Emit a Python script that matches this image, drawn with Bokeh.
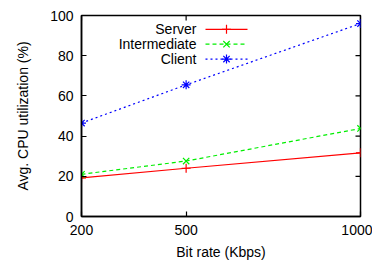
from bokeh.plotting import figure
from bokeh.models import Range1d, FixedTicker, Label
from bokeh.embed import file_html
from bokeh.resources import INLINE

bit_rates = [200, 500, 1000]
server = [19.2, 24.0, 31.7]
intermediate = [21.0, 27.6, 43.8]
client = [46.5, 65.5, 96.0]
series_names = ["Server", "Intermediate", "Client"]
x_ticks = [200, 500, 1000]
y_ticks = [0, 20, 40, 60, 80, 100]

FONT = "Liberation Sans"
FS = "14px"
FW, FH = 279, 203

p = figure(width=372, height=262, output_backend="svg", toolbar_location=None,
           x_range=Range1d(200, 1000), y_range=Range1d(0, 100),
           min_border_left=81, min_border_right=12, min_border_top=15, min_border_bottom=44)
p.grid.visible = False
p.outline_line_color = "black"
p.outline_line_width = 1.5
p.background_fill_color = "white"
p.border_fill_color = "white"

for ax in [p.xaxis[0], p.yaxis[0]]:
    ax.major_tick_in = 5
    ax.major_tick_out = 0
    ax.minor_tick_in = 0
    ax.minor_tick_out = 0
    ax.axis_line_width = 1.5
    ax.axis_line_color = "black"
    ax.major_tick_line_width = 1.2
    ax.major_tick_line_color = "black"
    ax.major_label_text_font = FONT
    ax.major_label_text_font_size = FS
    ax.major_label_text_color = "black"
    ax.axis_label_text_font = FONT
    ax.axis_label_text_font_size = FS
    ax.axis_label_text_font_style = "normal"
    ax.axis_label_text_color = "black"

p.xaxis[0].ticker = FixedTicker(ticks=x_ticks)
p.yaxis[0].ticker = FixedTicker(ticks=y_ticks)
p.xaxis[0].axis_label = "Bit rate (Kbps)"
p.yaxis[0].axis_label = "Avg. CPU utilization (%)"
p.xaxis[0].major_label_standoff = 8
p.yaxis[0].major_label_standoff = 8
p.xaxis[0].axis_label_standoff = 6
p.yaxis[0].axis_label_standoff = 16

x0, x1 = p.x_range.start, p.x_range.end
y0, y1 = p.y_range.start, p.y_range.end
dx = 5 / FW * (x1 - x0)
dy = 5 / FH * (y1 - y0)

# mirrored ticks (top and right), gnuplot style
p.segment(x0=x_ticks, y0=[y1] * len(x_ticks), x1=x_ticks, y1=[y1 - dy] * len(x_ticks),
          line_color="black", line_width=1.2)
p.segment(x0=[x1] * len(y_ticks), y0=y_ticks, x1=[x1 - dx] * len(y_ticks), y1=y_ticks,
          line_color="black", line_width=1.2)

styles = [
    dict(color="#ff0000", dash="solid", marker="cross"),
    dict(color="#00ee00", dash="4 3", marker="x"),
    dict(color="#0000ff", dash="2 3", marker="asterisk"),
]
data = [server, intermediate, client]

for ys, st in zip(data, styles):
    p.line(bit_rates, ys, line_color=st["color"], line_dash=st["dash"], line_width=1.2)
    p.scatter(bit_rates, ys, marker=st["marker"], size=9, line_color=st["color"], line_width=1.2)

# gnuplot-style legend: text right-aligned, sample to the right
lx_text = x0 + (195 - 80) / FW * (x1 - x0)
lx_a = x0 + (204 - 80) / FW * (x1 - x0)
lx_b = x0 + (246 - 80) / FW * (x1 - x0)
for i, (name, st) in enumerate(zip(series_names, styles)):
    ly = y1 - (28 + 15 * i - 14) / FH * (y1 - y0)
    p.add_layout(Label(x=lx_text, y=ly, text=name, text_align="right", text_baseline="middle",
                       text_font=FONT, text_font_size=FS, text_color="black"))
    p.line([lx_a, lx_b], [ly, ly], line_color=st["color"], line_dash=st["dash"], line_width=1.2)
    p.scatter([(lx_a + lx_b) / 2], [ly], marker=st["marker"], size=9, line_color=st["color"], line_width=1.2)

open("out.html", "w").write(file_html(p, INLINE))
